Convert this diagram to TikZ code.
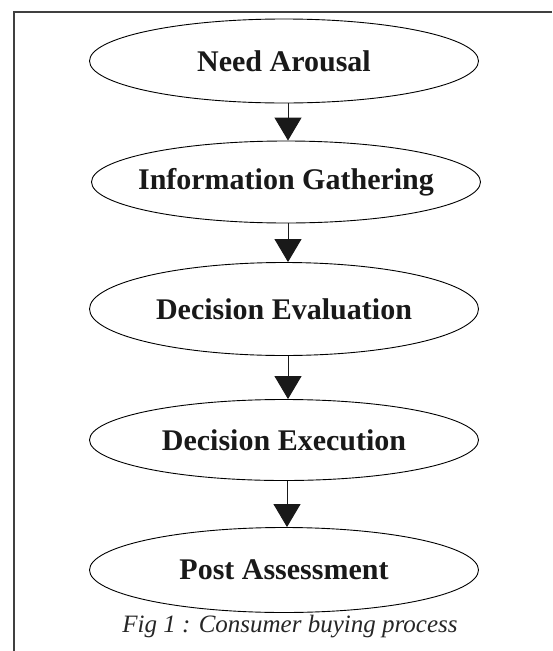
\documentclass[tikz,border=0pt]{standalone}
\usepackage{fontspec}
\setmainfont{Liberation Serif}
\usetikzlibrary{shapes.geometric,arrows.meta}

\tikzset{
  stage/.style={draw=black, line width=0.9pt, ellipse, minimum width=389pt,
    minimum height=84pt, inner sep=0pt,
    font=\fontsize{30}{35}\selectfont\bfseries, text=black!90},
  flow/.style={draw=black!90, line width=1pt,
    -{Triangle[width=27pt,length=23pt]}}
}

\begin{document}
\begin{tikzpicture}[x=1pt, y=-1pt]
            \useasboundingbox (0,0) rectangle (552,651);

            % Marco
            \draw[black!75, line width=1.5pt] (552,12) -- (14,12) -- (14,651);

            % Etapas
            \node[stage] (need) at (284,61) {Need Arousal};
            \node[stage, minimum height=82pt, inner xsep=-15pt] (info) at (286,182) {Information Gathering};
            \node[stage, minimum height=93pt] (eval) at (284,309) {Decision Evaluation};
            \node[stage, minimum height=81pt] (exec) at (284,440) {Decision Execution};
            \node[stage, minimum height=85pt] (post) at (284,570) {Post Assessment};

            % Flechas
            \draw[flow] ([xshift=4pt]need.south) -- ([xshift=2pt]info.north);
            \draw[flow] ([xshift=2pt]info.south) -- ([xshift=4pt]eval.north);
            \draw[flow] ([xshift=4pt]eval.south) -- ([xshift=4pt]exec.north);
            \draw[flow] ([xshift=3pt]exec.south) -- ([xshift=3pt]post.north);

            % Pie de figura
            \node[font=\fontsize{25}{29}\selectfont\itshape, text=black!85] (caption) at (290,627) {Fig 1 : Consumer buying process};
\end{tikzpicture}
\end{document}
